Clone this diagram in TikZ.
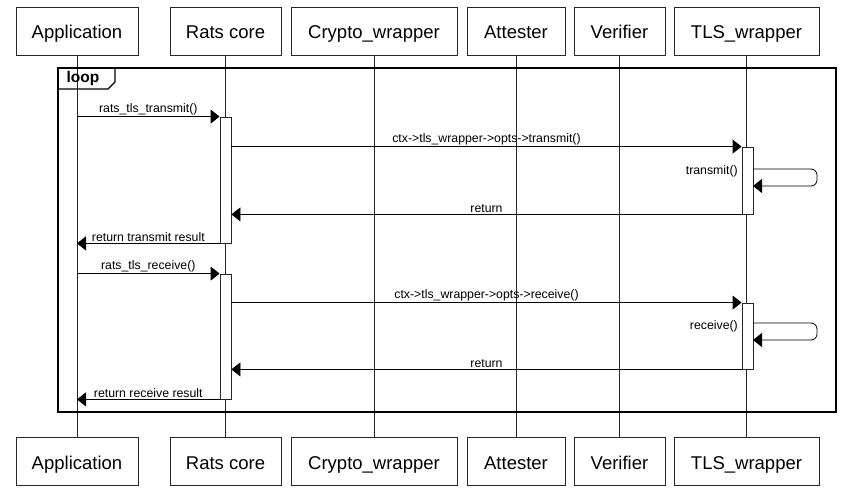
\documentclass[tikz,border=0pt]{standalone}
\usepackage{fontspec}
\setmainfont{Liberation Sans}
\usetikzlibrary{arrows.meta}
\begin{document}
\begin{tikzpicture}[x=1pt,y=-1pt,
  part/.style={draw=black!85,line width=0.8pt,fill=white,minimum height=48pt,inner sep=0pt,text height=15.5pt,text depth=0pt,font=\fontsize{18.5}{20}\selectfont},
  life/.style={draw=black!85,line width=0.8pt},
  act/.style={draw=black!85,line width=0.8pt,fill=white,minimum width=11pt,inner sep=0pt},
  msg/.style={draw=black,line width=0.8pt,-{Triangle[length=9pt,width=14pt]}},
  lbl/.style={font=\fontsize{12.3}{13}\selectfont,inner sep=0pt},
  frame/.style={draw=black,line width=1.6pt}]
\useasboundingbox (0,0) rectangle (846,493);
% participants top
\node[part,minimum width=122pt] (tA) at (77,31) {Application};
\node[part,minimum width=111pt] (tR) at (225.5,31) {Rats core};
\node[part,minimum width=166pt] (tC) at (374,31) {Crypto\_wrapper};
\node[part,minimum width=98pt] (tX) at (516,31) {Attester};
\node[part,minimum width=91pt] (tV) at (619.5,31) {Verifier};
\node[part,minimum width=145pt] (tT) at (746.5,31) {TLS\_wrapper};
% participants bottom
\node[part,minimum width=122pt] (bA) at (77,461.5) {Application};
\node[part,minimum width=111pt] (bR) at (225.5,461.5) {Rats core};
\node[part,minimum width=166pt] (bC) at (374,461.5) {Crypto\_wrapper};
\node[part,minimum width=98pt] (bX) at (516,461.5) {Attester};
\node[part,minimum width=91pt] (bV) at (619.5,461.5) {Verifier};
\node[part,minimum width=145pt] (bT) at (746.5,461.5) {TLS\_wrapper};
% lifelines
\draw[life] (tA.south) -- (bA.north);
\draw[life] (tR.south) -- (bR.north);
\draw[life] (tC.south) -- (bC.north);
\draw[life] (tX.south) -- (bX.north);
\draw[life] (tV.south) -- (bV.north);
\draw[life] (tT.south) -- (bT.north);
% loop frame
\draw[frame] (58,68) rectangle (836,412);
\draw[frame,line width=1.2pt] (58,89) -- (108,89) -- (115,82) -- (115,68);
\node[font=\fontsize{15.5}{16}\selectfont\bfseries,inner sep=0pt] (loopl) at (83,78.5) {loop};
% activations
\node[act,minimum height=126pt] (a1) at (225.5,180) {};
\node[act,minimum height=67pt] (t1) at (747.5,180.5) {};
\node[act,minimum height=125pt] (a2) at (225.5,336.5) {};
\node[act,minimum height=66pt] (t2) at (747.5,336) {};
% self-call points
\coordinate (s1a) at (753,169);
\coordinate (s1b) at (753,186);
\coordinate (s2a) at (753,323);
\coordinate (s2b) at (753,340);
% transmit block
\draw[msg] (tA.south |- a1.north) -- node[lbl,above=1.5pt] {rats\_tls\_transmit()} (a1.north west);
\draw[msg] (a1.east |- t1.north) -- node[lbl,above=1.5pt] {ctx->tls\_wrapper->opts->transmit()} (t1.north west);
\draw[msg,rounded corners=6pt] (s1a) -- (817,169) -- (817,186) -- (s1b);
\node[lbl,anchor=east] (l1) at (738,171.5) {transmit()};
\draw[msg] (t1.south west) -- node[lbl,above=1.5pt] {return} (a1.east |- t1.south);
\draw[msg] (a1.south west) -- node[lbl,above=1.5pt] {return transmit result} (tA.south |- a1.south);
% receive block
\draw[msg] (tA.south |- a2.north) -- node[lbl,above=1.5pt] {rats\_tls\_receive()} (a2.north west);
\draw[msg] (a2.east |- t2.north) -- node[lbl,above=1.5pt] {ctx->tls\_wrapper->opts->receive()} (t2.north west);
\draw[msg,rounded corners=6pt] (s2a) -- (817,323) -- (817,340) -- (s2b);
\node[lbl,anchor=east] (l2) at (738,326) {receive()};
\draw[msg] (t2.south west) -- node[lbl,above=1.5pt] {return} (a2.east |- t2.south);
\draw[msg] (a2.south west) -- node[lbl,above=1.5pt] {return receive result} (tA.south |- a2.south);
\end{tikzpicture}
\end{document}
